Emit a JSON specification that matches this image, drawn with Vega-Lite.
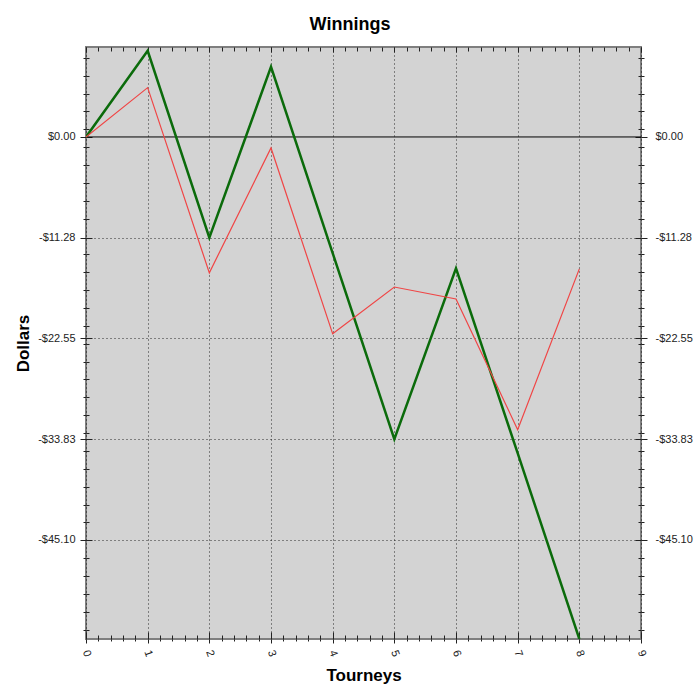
{
  "$schema": "https://vega.github.io/schema/vega-lite/v6.json",
  "width": 555,
  "height": 592,
  "autosize": {"type": "none"},
  "padding": {"left": 86, "top": 47, "right": 59, "bottom": 61},
  "background": "white",
  "title": {"text": "Winnings", "font": "Liberation Sans", "fontSize": 18, "fontWeight": "bold", "color": "#000", "dx": -13.5, "offset": -1, "baseline": "alphabetic"},
  "config": {
    "view": {"fill": "#d3d3d3", "stroke": "#7f7f7f", "strokeWidth": 2},
    "axis": {"domain": false, "grid": false, "labelFont": "Liberation Sans", "labelFontSize": 11, "labelColor": "#222", "titleFont": "Liberation Sans", "titleFontSize": 17, "titleFontWeight": "bold", "titleColor": "#000", "tickColor": "#222", "tickWidth": 1}
  },
  "data": {"values": [
    {"tourney": 0, "dollars": 0, "series": "A"},
    {"tourney": 1, "dollars": 9.65, "series": "A"},
    {"tourney": 2, "dollars": -11.28, "series": "A"},
    {"tourney": 3, "dollars": 7.84, "series": "A"},
    {"tourney": 4, "dollars": -13.0, "series": "A"},
    {"tourney": 5, "dollars": -33.83, "series": "A"},
    {"tourney": 6, "dollars": -14.7, "series": "A"},
    {"tourney": 7, "dollars": -35.4, "series": "A"},
    {"tourney": 8, "dollars": -56.2, "series": "A"},
    {"tourney": 0, "dollars": 0, "series": "B"},
    {"tourney": 1, "dollars": 5.52, "series": "B"},
    {"tourney": 2, "dollars": -15.21, "series": "B"},
    {"tourney": 3, "dollars": -1.23, "series": "B"},
    {"tourney": 4, "dollars": -22.04, "series": "B"},
    {"tourney": 5, "dollars": -16.8, "series": "B"},
    {"tourney": 6, "dollars": -18.14, "series": "B"},
    {"tourney": 7, "dollars": -32.77, "series": "B"},
    {"tourney": 8, "dollars": -14.77, "series": "B"}
  ]},
  "resolve": {"axis": {"x": "independent", "y": "independent"}},
  "layer": [
    {
      "mark": {"type": "line", "opacity": 0},
      "encoding": {
        "x": {"field": "tourney", "type": "quantitative", "scale": {"domain": [0, 9], "nice": false, "zero": false},
          "axis": {"orient": "bottom", "title": null, "labels": false, "values": [0,0.2,0.4,0.6,0.8,1,1.2,1.4,1.6,1.8,2,2.2,2.4,2.6,2.8,3,3.2,3.4,3.6,3.8,4,4.2,4.4,4.6,4.8,5,5.2,5.4,5.6,5.8,6,6.2,6.4,6.6,6.8,7,7.2,7.4,7.6,7.8,8,8.2,8.4,8.6,8.8,9],
            "tickSize": {"condition": {"test": "datum.value === round(datum.value)", "value": 4}, "value": 2}}},
        "y": {"field": "dollars", "type": "quantitative", "scale": {"domain": [-56.2, 10.07], "nice": false, "zero": false},
          "axis": {"orient": "left", "title": null, "labels": false, "values": [8.85,6.85,4.85,2.85,0.85,0,-1.15,-3.15,-5.15,-7.15,-9.15,-11.28,-13.15,-15.15,-17.15,-19.15,-21.15,-22.55,-23.15,-25.15,-27.15,-29.15,-31.15,-33.15,-33.83,-35.15,-37.15,-39.15,-41.15,-43.15,-45.1,-47.15,-49.15,-51.15,-53.15,-55.15],
            "tickSize": {"condition": {"test": "indexof([0,-11.28,-22.55,-33.83,-45.1], datum.value) >= 0", "value": 6}, "value": 3}}}
      }
    },
    {
      "mark": {"type": "line", "opacity": 0},
      "encoding": {
        "x": {"field": "tourney", "type": "quantitative", "scale": {"domain": [0, 9], "nice": false, "zero": false},
          "axis": {"orient": "bottom", "title": null, "labels": false, "values": [0,0.2,0.4,0.6,0.8,1,1.2,1.4,1.6,1.8,2,2.2,2.4,2.6,2.8,3,3.2,3.4,3.6,3.8,4,4.2,4.4,4.6,4.8,5,5.2,5.4,5.6,5.8,6,6.2,6.4,6.6,6.8,7,7.2,7.4,7.6,7.8,8,8.2,8.4,8.6,8.8,9],
            "tickSize": {"condition": {"test": "datum.value === round(datum.value)", "value": -7}, "value": -4}}},
        "y": {"field": "dollars", "type": "quantitative", "scale": {"domain": [-56.2, 10.07], "nice": false, "zero": false},
          "axis": {"orient": "left", "title": null, "labels": false, "values": [8.85,6.85,4.85,2.85,0.85,0,-1.15,-3.15,-5.15,-7.15,-9.15,-11.28,-13.15,-15.15,-17.15,-19.15,-21.15,-22.55,-23.15,-25.15,-27.15,-29.15,-31.15,-33.15,-33.83,-35.15,-37.15,-39.15,-41.15,-43.15,-45.1,-47.15,-49.15,-51.15,-53.15,-55.15],
            "tickSize": {"condition": {"test": "indexof([0,-11.28,-22.55,-33.83,-45.1], datum.value) >= 0", "value": -6}, "value": -3}}}
      }
    },
    {
      "mark": {"type": "line", "opacity": 0},
      "encoding": {
        "x": {"field": "tourney", "type": "quantitative", "scale": {"domain": [0, 9], "nice": false, "zero": false},
          "axis": {"orient": "top", "title": null, "labels": false, "values": [0,0.2,0.4,0.6,0.8,1,1.2,1.4,1.6,1.8,2,2.2,2.4,2.6,2.8,3,3.2,3.4,3.6,3.8,4,4.2,4.4,4.6,4.8,5,5.2,5.4,5.6,5.8,6,6.2,6.4,6.6,6.8,7,7.2,7.4,7.6,7.8,8,8.2,8.4,8.6,8.8,9],
            "tickSize": {"condition": {"test": "datum.value === round(datum.value)", "value": -5}, "value": -4}}},
        "y": {"field": "dollars", "type": "quantitative", "scale": {"domain": [-56.2, 10.07], "nice": false, "zero": false},
          "axis": {"orient": "right", "title": null, "labels": false, "values": [8.85,6.85,4.85,2.85,0.85,0,-1.15,-3.15,-5.15,-7.15,-9.15,-11.28,-13.15,-15.15,-17.15,-19.15,-21.15,-22.55,-23.15,-25.15,-27.15,-29.15,-31.15,-33.15,-33.83,-35.15,-37.15,-39.15,-41.15,-43.15,-45.1,-47.15,-49.15,-51.15,-53.15,-55.15],
            "tickSize": {"condition": {"test": "indexof([0,-11.28,-22.55,-33.83,-45.1], datum.value) >= 0", "value": 6}, "value": 3}}}
      }
    },
    {
      "mark": {"type": "line", "opacity": 0},
      "encoding": {
        "x": {"field": "tourney", "type": "quantitative", "scale": {"domain": [0, 9], "nice": false, "zero": false}, "axis": null},
        "y": {"field": "dollars", "type": "quantitative", "scale": {"domain": [-56.2, 10.07], "nice": false, "zero": false},
          "axis": {"orient": "right", "title": null, "labels": false, "values": [8.85,6.85,4.85,2.85,0.85,0,-1.15,-3.15,-5.15,-7.15,-9.15,-11.28,-13.15,-15.15,-17.15,-19.15,-21.15,-22.55,-23.15,-25.15,-27.15,-29.15,-31.15,-33.15,-33.83,-35.15,-37.15,-39.15,-41.15,-43.15,-45.1,-47.15,-49.15,-51.15,-53.15,-55.15],
            "tickSize": {"condition": {"test": "indexof([0,-11.28,-22.55,-33.83,-45.1], datum.value) >= 0", "value": -6}, "value": -3}}}
      }
    },
    {
      "mark": {"type": "line", "opacity": 0},
      "encoding": {
        "x": {"field": "tourney", "type": "quantitative", "scale": {"domain": [0, 9], "nice": false, "zero": false}, "axis": null},
        "y": {"field": "dollars", "type": "quantitative", "scale": {"domain": [-56.2, 10.07], "nice": false, "zero": false},
          "axis": {"orient": "right", "title": null, "ticks": false, "labelPadding": 14, "labelAlign": "left", "values": [0, -11.28, -22.55, -33.83, -45.1],
            "labelExpr": "(datum.value < 0 ? '-$' : '$') + format(abs(datum.value), '.2f')"}}
      }
    },
    {
      "data": {"values": [{"level": 0}]},
      "mark": {"type": "rule", "color": "#000", "strokeWidth": 1},
      "encoding": {
        "y": {"field": "level", "type": "quantitative", "scale": {"domain": [-56.2, 10.07], "nice": false, "zero": false}, "axis": null}
      }
    },
    {
      "mark": {"type": "line", "clip": true},
      "encoding": {
        "x": {"field": "tourney", "type": "quantitative", "scale": {"domain": [0, 9], "nice": false, "zero": false},
          "axis": {"orient": "bottom", "title": "Tourneys", "ticks": false, "values": [0,1,2,3,4,5,6,7,8,9], "grid": true, "gridColor": "#000", "gridDash": [1, 3], "gridOpacity": 0.8,
            "labelAngle": 70, "labelAlign": "center", "labelBaseline": "middle", "labelPadding": 14, "labelFontSize": 11, "titlePadding": 10}},
        "y": {"field": "dollars", "type": "quantitative", "scale": {"domain": [-56.2, 10.07], "nice": false, "zero": false},
          "axis": {"orient": "left", "title": "Dollars", "ticks": false, "values": [0, -11.28, -22.55, -33.83, -45.1], "grid": true, "gridColor": "#000", "gridDash": [1, 3],
            "gridOpacity": {"condition": {"test": "datum.value === 0", "value": 0}, "value": 0.8},
            "labelPadding": 11, "titlePadding": 5,
            "labelExpr": "(datum.value < 0 ? '-$' : '$') + format(abs(datum.value), '.2f')"}},
        "color": {"field": "series", "type": "nominal", "scale": {"domain": ["A", "B"], "range": ["#0b6b0b", "#f04545"]}, "legend": null},
        "strokeWidth": {"field": "series", "type": "nominal", "scale": {"domain": ["A", "B"], "range": [2.5, 1.2]}, "legend": null}
      }
    }
  ]
}
